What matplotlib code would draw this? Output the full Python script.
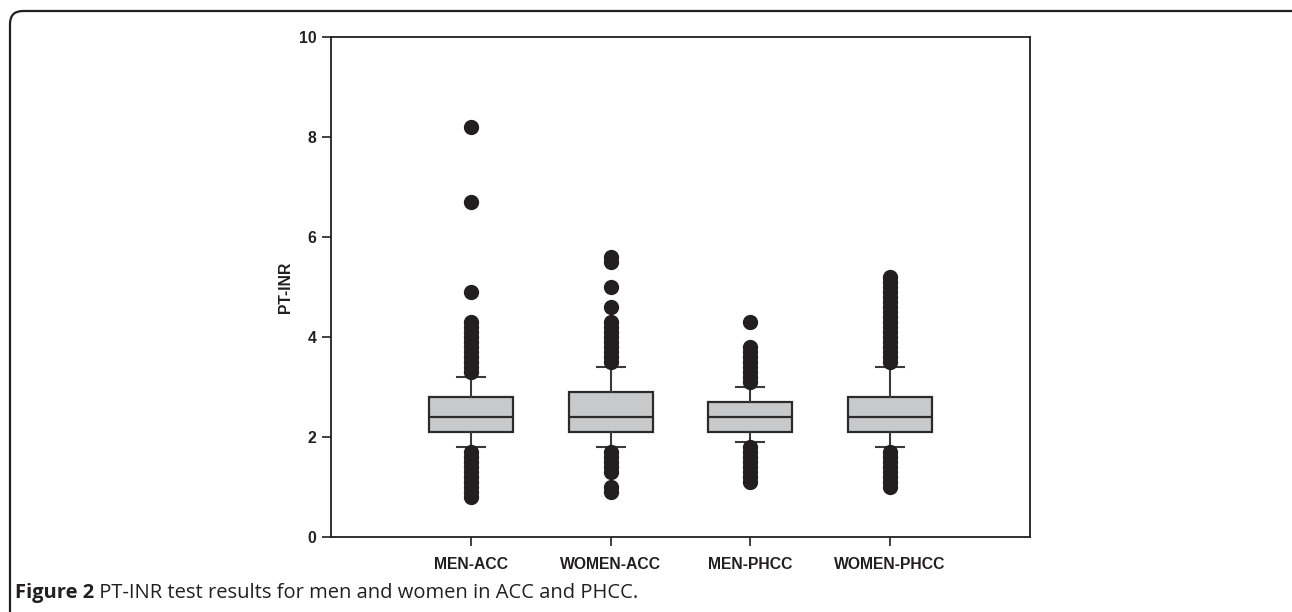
import matplotlib
matplotlib.use("Agg")
import matplotlib.pyplot as plt
from matplotlib.path import Path
from matplotlib.patches import PathPatch
from matplotlib.transforms import IdentityTransform

categories = ["MEN-ACC", "WOMEN-ACC", "MEN-PHCC", "WOMEN-PHCC"]
q1 = [2.1, 2.1, 2.1, 2.1]
medians = [2.4, 2.4, 2.4, 2.4]
q3 = [2.8, 2.9, 2.7, 2.8]
whisker_low = [1.8, 1.8, 1.9, 1.8]
whisker_high = [3.2, 3.4, 3.0, 3.4]
outliers = [
    [0.8, 0.9, 1.0, 1.1, 1.2, 1.3, 1.4, 1.5, 1.6, 1.7,
     3.3, 3.4, 3.5, 3.6, 3.7, 3.8, 3.9, 4.0, 4.1, 4.2, 4.3, 4.9, 6.7, 8.2],
    [0.9, 1.0, 1.3, 1.4, 1.5, 1.6, 1.7,
     3.5, 3.6, 3.7, 3.8, 3.9, 4.0, 4.1, 4.2, 4.3, 4.6, 5.0, 5.5, 5.6],
    [1.1, 1.2, 1.3, 1.4, 1.5, 1.6, 1.7, 1.8,
     3.1, 3.2, 3.3, 3.4, 3.5, 3.6, 3.7, 3.8, 4.3],
    [1.0, 1.1, 1.2, 1.3, 1.4, 1.5, 1.6, 1.7,
     3.5, 3.6, 3.7, 3.8, 3.9, 4.0, 4.1, 4.2, 4.3, 4.4, 4.5, 4.6, 4.7,
     4.8, 4.9, 5.0, 5.1, 5.2],
]
y_ticks = [0, 2, 4, 6, 8, 10]
y_label = "PT-INR"
caption_bold = "Figure 2"
caption_rest = " PT-INR test results for men and women in ACC and PHCC."

W, H = 1292, 612
fig = plt.figure(figsize=(W / 100, H / 100), dpi=100)
ax = fig.add_axes([331 / W, (H - 537) / H, (1030 - 331) / W, 500 / H])

stats = []
for i, name in enumerate(categories):
    stats.append(dict(label=name, q1=q1[i], med=medians[i], q3=q3[i],
                      whislo=whisker_low[i], whishi=whisker_high[i],
                      fliers=outliers[i]))

edge = "#3a3a3a"
ax.bxp(stats, positions=[1, 2, 3, 4], widths=0.6, patch_artist=True,
       showfliers=True,
       boxprops=dict(facecolor="#c8c9cb", edgecolor="#2b2b2b", linewidth=1.6),
       medianprops=dict(color="#2b2b2b", linewidth=1.6),
       whiskerprops=dict(color=edge, linewidth=1.5),
       capprops=dict(color=edge, linewidth=1.5),
       capwidths=0.2,
       flierprops=dict(marker="o", markersize=10, markerfacecolor="#231f20",
                       markeredgecolor="#231f20", linestyle="none"),
       zorder=3)

ax.set_xlim(0, 5)
ax.set_ylim(0, 10)
ax.set_yticks(y_ticks)
ax.set_xticks([1, 2, 3, 4])
ax.set_xticklabels(categories)
for lab in ax.get_xticklabels() + ax.get_yticklabels():
    lab.set_fontfamily("Liberation Sans")
    lab.set_fontweight("bold")
    lab.set_fontsize(11.3)
    lab.set_color("#231f20")
ax.tick_params(direction="out", length=6.5, width=1.2, color="#231f20", pad=4)
ax.tick_params(axis="x", pad=8)
for s in ax.spines.values():
    s.set_linewidth(1.3)
    s.set_color("#231f20")
ax.set_ylabel(y_label, fontfamily="Liberation Sans", fontweight="bold",
              fontsize=11.3, color="#231f20", labelpad=4)

# page frame with rounded top-left corner
r = 13
x0, y0 = 10, H - 11
verts = [(x0, -2), (x0, y0 - r), (x0, y0), (x0 + r, y0), (W + 2, y0)]
codes = [Path.MOVETO, Path.LINETO, Path.CURVE3, Path.CURVE3, Path.LINETO]
frame = PathPatch(Path(verts, codes), facecolor="none", edgecolor="#231f20",
                  linewidth=1.6, transform=IdentityTransform())
fig.patches.append(frame)

t1 = fig.text(15 / W, 1 - 593 / H, caption_bold, fontfamily="Open Sans",
              fontweight="bold", fontsize=14.5, color="#231f20", va="center")
fig.canvas.draw()
bb = t1.get_window_extent()
fig.text(bb.x1 / W, 1 - 593 / H, caption_rest, fontfamily="Open Sans",
         fontsize=14.5, color="#231f20", va="center")

fig.savefig("out.png", dpi=100)
